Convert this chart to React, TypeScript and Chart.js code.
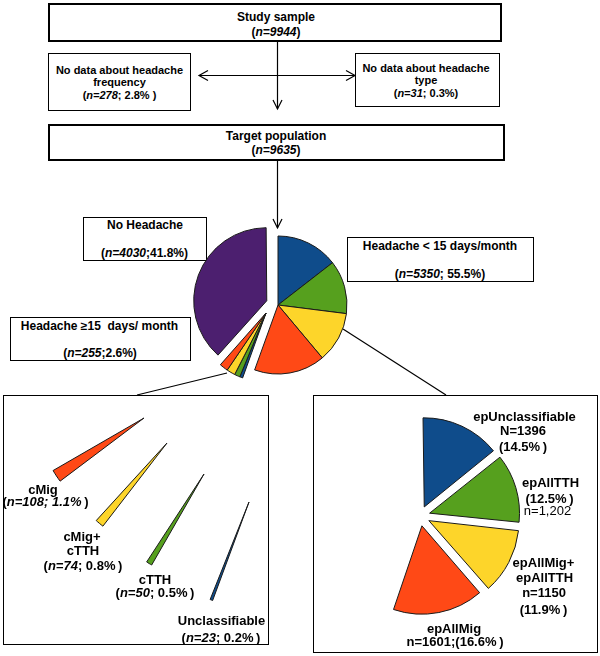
import React, { useEffect, useRef } from "react";
import { Chart, registerables } from "chart.js";

Chart.register(...registerables);

// ---------------- data ----------------
const flowN = [9944, 278, 31, 9635]; // study sample, no freq data, no type data, target
const flowPct = [100, 2.8, 0.3, 96.9];

const groupLabels = ["Headache < 15 days/month", "Headache \u226515  days/ month", "No Headache"];
const groupN = [5350, 255, 4030];
const groupPct = [55.5, 2.6, 41.8];

const episodicLabels = ["epUnclassifiable", "epAllTTH", "epAllMig+epAllTTH", "epAllMig"];
const episodicN = [1396, 1202, 1150, 1601];
const episodicPct = [14.5, 12.5, 11.9, 16.6];

const chronicLabels = ["Unclassifiable", "cTTH", "cMig+cTTH", "cMig"];
const chronicN = [23, 50, 74, 108];
const chronicPct = [0.2, 0.5, 0.8, 1.1];

// shares of the main pie as drawn (%): episodic x4, chronic x4 (drawn enlarged), no headache
const mainPieShares = [14.5, 12.5, 11.9, 16.6, 0.7, 1.3, 2.0, 2.0, 38.5];
// cases per full turn for the enlarged chronic wedges of the lower-left panel
const chronicWedgeTurn = 5600;

// ---------------- styles ----------------
const BLUE = "#0f4c8b";
const GREEN = "#56a01e";
const YELLOW = "#fdd52a";
const ORANGE = "#ff4916";
const PURPLE = "#4c1f6f";
const CLEAR = "rgba(0,0,0,0)";
const EDGE = "#1a1a1a";

type PieProps = {
  cx: number;
  cy: number;
  size: number;
  labels: string[];
  data: number[];
  colors: string[];
  borders: number[];
  offsets: number[];
  radius: number;
  rotation: number;
};

function PieCanvas(p: PieProps) {
  const ref = useRef<HTMLCanvasElement>(null);
  useEffect(() => {
    const chart = new Chart(ref.current as HTMLCanvasElement, {
      type: "pie",
      data: {
        labels: p.labels,
        datasets: [
          {
            data: p.data,
            backgroundColor: p.colors,
            borderColor: EDGE,
            borderWidth: p.borders,
            // Chart.js draws an arc offset of k as k/4 pixels
            offset: p.offsets.map((o) => o * 4),
            radius: p.radius,
            rotation: p.rotation,
          } as any,
        ],
      },
      options: {
        responsive: false,
        animation: false,
        events: [],
        layout: { padding: 0 },
        plugins: { legend: { display: false }, tooltip: { enabled: false } },
      },
    });
    return () => chart.destroy();
  }, []);
  return (
    <canvas
      ref={ref}
      width={p.size}
      height={p.size}
      style={{ position: "absolute", left: p.cx - p.size / 2, top: p.cy - p.size / 2, width: p.size, height: p.size }}
    />
  );
}

function Box({ x1, y1, x2, y2, w }: { x1: number; y1: number; x2: number; y2: number; w: number }) {
  return (
    <div
      style={{
        position: "absolute",
        left: x1,
        top: y1,
        width: x2 - x1,
        height: y2 - y1,
        border: `${w}px solid #000`,
        boxSizing: "border-box",
        background: "#fff",
      }}
    />
  );
}

function T({ x, y, size = 13, weight = 700, children }: { x: number; y: number; size?: number; weight?: number; children: any }) {
  return (
    <div
      style={{
        position: "absolute",
        left: x,
        top: y,
        transform: "translate(-50%, -50%)",
        fontSize: size,
        fontWeight: weight,
        lineHeight: 1,
        whiteSpace: "pre",
        color: "#000",
      }}
    >
      {children}
    </div>
  );
}

const fmt = (n: number) => n.toLocaleString("en-US");

export default function App() {
  useEffect(() => {
    document.body.style.margin = "0";
  }, []);

  const sliceColors = [BLUE, GREEN, YELLOW, ORANGE];
  const mainLabels = [...episodicLabels, ...chronicLabels, groupLabels[2]];

  // main pie: episodic + no headache
  const mainColors = [...sliceColors, CLEAR, CLEAR, CLEAR, CLEAR, PURPLE];
  const mainBorders = [1, 1, 1, 1, 0, 0, 0, 0, 1];
  const mainOffsets = [0, 0, 0, 0, 0, 0, 0, 0, 12];
  // chronic group (exploded, drawn on its own centre)
  const chrColors = [CLEAR, CLEAR, CLEAR, CLEAR, ...sliceColors, CLEAR];
  const chrBorders = [0, 0, 0, 0, 1, 1, 1, 1, 0];

  // lower-right pie: episodic sub-types + hidden rest
  const restN = groupN[1] + groupN[2];
  const epData = [...episodicN, restN];

  // lower-left wedges (order: Unclassifiable, cTTH, cMig+cTTH, cMig)
  const wedgeLayout = [
    { x: 249, y: 502, dir: 201 },
    { x: 204, y: 474, dir: 211.5 },
    { x: 167, y: 443, dir: 220 },
    { x: 144, y: 418, dir: 236.5 },
  ];

  return (
    <div
      style={{
        position: "absolute",
        left: 0,
        top: 0,
        width: 600,
        height: 656,
        background: "#fff",
        overflow: "hidden",
        fontFamily: '"Liberation Sans", Arial, sans-serif',
      }}
    >
      <svg width={600} height={656} style={{ position: "absolute", left: 0, top: 0 }}>
        <g stroke="#000" strokeWidth={1.2} fill="none">
          <line x1={277.5} y1={42} x2={277.5} y2={109} />
          <polyline points="273,100 277.5,109 282,100" />
          <line x1={199} y1={75.5} x2={355} y2={75.5} />
          <polyline points="208,70.5 199,75.5 208,80.5" />
          <polyline points="346,70.5 355,75.5 346,80.5" />
          <line x1={277.5} y1={161} x2={277.5} y2={228} />
          <polyline points="273,219 277.5,228 282,219" />
          <line x1={343} y1={329} x2={446} y2={395} />
          <line x1={227} y1={373} x2={137} y2={395} />
        </g>
      </svg>

      {/* flow boxes */}
      <Box x1={48} y1={3} x2={502} y2={42} w={2} />
      <T x={276} y={16.5} size={12}>Study sample</T>
      <T x={276} y={32} size={12}>(<i>n={flowN[0]}</i>)</T>

      <Box x1={48} y1={53} x2={191} y2={111} w={1} />
      <T x={119.5} y={69.5} size={11}>No data about headache</T>
      <T x={119.5} y={81.5} size={11}>frequency</T>
      <T x={119.5} y={94.5} size={11}>(<i>n={flowN[1]}</i>; {flowPct[1]}% )</T>

      <Box x1={355} y1={53} x2={500} y2={107} w={1} />
      <T x={426} y={67.5} size={11}>No data about headache</T>
      <T x={426} y={80} size={11}>type</T>
      <T x={426} y={93} size={11}>(<i>n={flowN[2]}</i>; {flowPct[2]}%)</T>

      <Box x1={48} y1={124} x2={505} y2={161} w={2} />
      <T x={276} y={135.5} size={12}>Target population</T>
      <T x={276} y={150} size={12}>(<i>n={flowN[3]}</i>)</T>

      {/* group boxes */}
      <Box x1={83} y1={217} x2={207} y2={261} w={1} />
      <T x={145} y={225} size={12}>{groupLabels[2]}</T>
      <T x={144.5} y={252.5} size={12}>(<i>n={groupN[2]}</i>;{groupPct[2]}%)</T>

      <Box x1={347} y1={237} x2={534} y2={282} w={1} />
      <T x={440} y={246} size={12}>{groupLabels[0]}</T>
      <T x={440} y={273.5} size={12}>(<i>n={groupN[0]}</i>; {groupPct[0]}%)</T>

      <Box x1={10} y1={317} x2={191} y2={361} w={1} />
      <T x={99.5} y={326} size={12}>{groupLabels[1]}</T>
      <T x={100} y={353} size={12}>(<i>n={groupN[1]}</i>;{groupPct[1]}%)</T>

      {/* main pie */}
      <PieCanvas
        cx={278}
        cy={305}
        size={184}
        labels={mainLabels}
        data={mainPieShares}
        colors={mainColors}
        borders={mainBorders}
        offsets={mainOffsets}
        radius={69}
        rotation={0}
      />
      <PieCanvas
        cx={266}
        cy={313}
        size={160}
        labels={mainLabels}
        data={mainPieShares}
        colors={chrColors}
        borders={chrBorders}
        offsets={[0, 0, 0, 0, 0, 0, 0, 0, 0]}
        radius={69}
        rotation={0}
      />

      {/* lower panels */}
      <Box x1={3} y1={395} x2={269} y2={645} w={1} />
      <Box x1={313} y1={395} x2={598} y2={653} w={1} />

      {chronicN.map((n, i) => {
        const ang = (n / chronicWedgeTurn) * 360;
        const L = wedgeLayout[i];
        return (
          <PieCanvas
            key={i}
            cx={L.x}
            cy={L.y}
            size={224}
            labels={[chronicLabels[i], ""]}
            data={[n, chronicWedgeTurn - n]}
            colors={[sliceColors[i], CLEAR]}
            borders={[1, 0]}
            offsets={[0, 0]}
            radius={105}
            rotation={L.dir - ang / 2}
          />
        );
      })}

      <PieCanvas
        cx={420}
        cy={516}
        size={240}
        labels={[...episodicLabels, "rest"]}
        data={epData}
        colors={[...sliceColors, CLEAR]}
        borders={[1, 1, 1, 1, 0]}
        offsets={[10, 10, 10, 10, 0]}
        radius={87}
        rotation={-1}
      />

      {/* lower-left labels */}
      <T x={43} y={489}>{chronicLabels[3]}</T>
      <T x={45.5} y={501}>(<i>n={chronicN[3]}; {chronicPct[3]}%</i>{"\u2009"})</T>
      <T x={82} y={536}>cMig+</T>
      <T x={83} y={550}>cTTH</T>
      <T x={83} y={565}>(<i>n={chronicN[2]}</i>; {chronicPct[2]}%{"\u2009"})</T>
      <T x={155} y={578.5}>{chronicLabels[1]}</T>
      <T x={155} y={592}>(<i>n={chronicN[1]}</i>; {chronicPct[1]}%{"\u2009"})</T>
      <T x={221.5} y={620}>{chronicLabels[0]}</T>
      <T x={221} y={636.5}>(<i>n={chronicN[0]}</i>; {chronicPct[0]}%{"\u2009"})</T>

      {/* lower-right labels */}
      <T x={524.5} y={415.5}>{episodicLabels[0]}</T>
      <T x={523} y={430}>N={episodicN[0]}</T>
      <T x={523} y={446}>({episodicPct[0]}%{"\u2009"})</T>

      <T x={550.5} y={482}>{episodicLabels[1]}</T>
      <T x={549.5} y={497.5}>({episodicPct[1]}%{"\u2009"})</T>
      <T x={547.5} y={510} weight={400}>n={fmt(episodicN[1])}</T>

      <T x={543.5} y={561.5}>epAllMig+</T>
      <T x={544.5} y={576.5}>epAllTTH</T>
      <T x={544} y={591.5}>n={episodicN[2]}</T>
      <T x={543.5} y={609}>({episodicPct[2]}%{"\u2009"})</T>

      <T x={454} y={628}>{episodicLabels[3]}</T>
      <T x={455} y={640.5}>n={episodicN[3]};({episodicPct[3]}%{"\u2009"})</T>
    </div>
  );
}
